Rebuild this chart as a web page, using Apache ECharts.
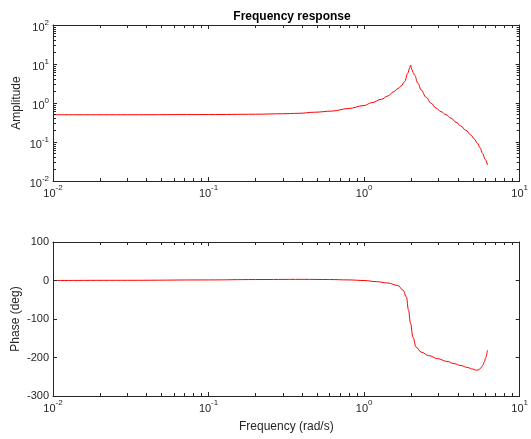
<!DOCTYPE html>
<html>
<head>
<meta charset="utf-8">
<script src="https://cdn.jsdelivr.net/npm/echarts@6/dist/echarts.min.js"></script>
<style>
html,body{margin:0;padding:0;background:#fff;}
#chart{width:531px;height:439px;}
</style>
</head>
<body>
<div id="chart"></div>
<script>
// ---- data ----
const ampFreq   = [0.01, 0.03, 0.1, 0.2, 0.3, 0.38, 0.48, 0.62, 0.79, 1.0, 1.12, 1.29, 1.42, 1.55, 1.65, 1.73, 1.82, 1.91, 1.96, 1.99, 2.03, 2.07, 2.11, 2.22, 2.33, 2.5, 2.7, 2.9, 3.12, 3.36, 3.62, 3.9, 4.19, 4.5, 4.86, 5.1, 5.36, 5.57, 5.77, 6.0, 6.21];
const ampValues = [0.5, 0.5, 0.505, 0.515, 0.53, 0.544, 0.58, 0.62, 0.72, 0.86, 1.02, 1.24, 1.51, 1.95, 2.35, 2.73, 3.5, 5.8, 7.8, 9.4, 7.2, 6.0, 5.2, 3.2, 2.15, 1.41, 0.98, 0.74, 0.6, 0.5, 0.41, 0.32, 0.257, 0.2, 0.151, 0.12, 0.093, 0.071, 0.051, 0.036, 0.026];
const phaseFreq   = [0.01, 0.03, 0.1, 0.2, 0.4, 0.6, 0.8, 1.0, 1.2, 1.42, 1.65, 1.78, 1.87, 1.93, 1.99, 2.06, 2.16, 2.33, 2.6, 2.97, 3.4, 3.8, 4.2, 4.62, 5.0, 5.24, 5.45, 5.63, 5.8, 5.92, 6.05, 6.21];
const phaseValues = [0, 0.5, 1.5, 2.5, 3, 2.5, 1.5, 0, -3, -6.5, -13, -25, -43, -77, -112, -147, -173, -186, -195, -203, -210, -216, -221, -226, -230, -233, -232, -227, -220, -212, -200, -181];
const titleText = 'Frequency response';
const ampName = 'Amplitude';
const phaseName = 'Phase (deg)';
const freqName = 'Frequency (rad/s)';

const AX = '#262626';
const FONT = 'Liberation Sans, Arial, sans-serif';
const richX = {
  b: {fontSize: 11, color: AX, fontFamily: FONT},
  s: {fontSize: 8, color: AX, fontFamily: FONT, padding: [0, 0, 12, 0]}
};
const richY = {
  b: {fontSize: 11, color: AX, fontFamily: FONT, padding: [6, 0, 0, 0]},
  s: {fontSize: 8, color: AX, fontFamily: FONT, padding: [0, 0, 4, 0]}
};
function powFmt(v) {
  const e = Math.round(Math.log10(v));
  return '{b|10}{s|' + e + '}';
}

function logAxis(grid, pos, min, max, opts) {
  return Object.assign({
    type: 'log', logBase: 10, gridIndex: grid, position: pos, min: min, max: max,
    axisLine: {show: true, onZero: false, lineStyle: {color: AX, width: 1}},
    axisTick: {show: true, inside: true, length: 4, lineStyle: {color: AX, width: 1}},
    minorTick: {show: true, splitNumber: 9, length: 3, lineStyle: {color: AX, width: 1}},
    axisLabel: {show: false},
    splitLine: {show: false},
    minorSplitLine: {show: false},
    z: 5
  }, opts || {});
}
function valAxis(grid, pos, opts) {
  return Object.assign({
    type: 'value', gridIndex: grid, position: pos, min: -300, max: 100, interval: 100,
    axisLine: {show: true, onZero: false, lineStyle: {color: AX, width: 1}},
    axisTick: {show: true, inside: true, length: 4, lineStyle: {color: AX, width: 1}},
    axisLabel: {show: false},
    splitLine: {show: false},
    z: 5
  }, opts || {});
}

const option = {
  animation: false,
  backgroundColor: '#fff',
  title: {
    text: titleText, left: 287, top: 6, textAlign: 'center',
    textStyle: {fontSize: 12, fontWeight: 'bold', color: '#000', fontFamily: FONT}
  },
  grid: [
    {left: 53, right: 9, top: 25, height: 156},
    {left: 53, right: 9, top: 242, height: 154}
  ],
  xAxis: [
    logAxis(0, 'bottom', 0.01, 10, {
      axisLabel: {show: true, margin: 3, formatter: powFmt, rich: richX}
    }),
    logAxis(0, 'top', 0.01, 10),
    logAxis(1, 'bottom', 0.01, 10, {
      axisLabel: {show: true, margin: 3, formatter: powFmt, rich: richX},
      name: freqName, nameLocation: 'middle', nameGap: 25, nameMoveOverlap: false,
      nameTextStyle: {fontSize: 12, color: AX, fontFamily: FONT}
    }),
    logAxis(1, 'top', 0.01, 10)
  ],
  yAxis: [
    logAxis(0, 'left', 0.01, 100, {
      axisLabel: {show: true, margin: 4, formatter: powFmt, rich: richY},
      name: ampName, nameLocation: 'middle', nameGap: 30, nameRotate: 90, nameMoveOverlap: false,
      nameTextStyle: {fontSize: 12, color: AX, fontFamily: FONT}
    }),
    logAxis(0, 'right', 0.01, 100),
    valAxis(1, 'left', {
      axisLabel: {show: true, margin: 4, fontSize: 11, color: AX, fontFamily: FONT},
      name: phaseName, nameLocation: 'middle', nameGap: 31, nameRotate: 90, nameMoveOverlap: false,
      nameTextStyle: {fontSize: 12, color: AX, fontFamily: FONT}
    }),
    valAxis(1, 'right')
  ],
  series: [
    {
      type: 'line', xAxisIndex: 0, yAxisIndex: 0, showSymbol: false, smooth: 0.4, smoothMonotone: 'x',
      lineStyle: {color: '#ff0000', width: 1}, itemStyle: {color: '#ff0000'},
      data: ampFreq.map((f, i) => [f, ampValues[i]])
    },
    {
      type: 'line', xAxisIndex: 2, yAxisIndex: 2, showSymbol: false, smooth: 0.4, smoothMonotone: 'x',
      lineStyle: {color: '#ff0000', width: 1}, itemStyle: {color: '#ff0000'},
      data: phaseFreq.map((f, i) => [f, phaseValues[i]])
    }
  ]
};
const chart = echarts.init(document.getElementById('chart'), null, {renderer: 'canvas'});
chart.setOption(option);
</script>
</body>
</html>
